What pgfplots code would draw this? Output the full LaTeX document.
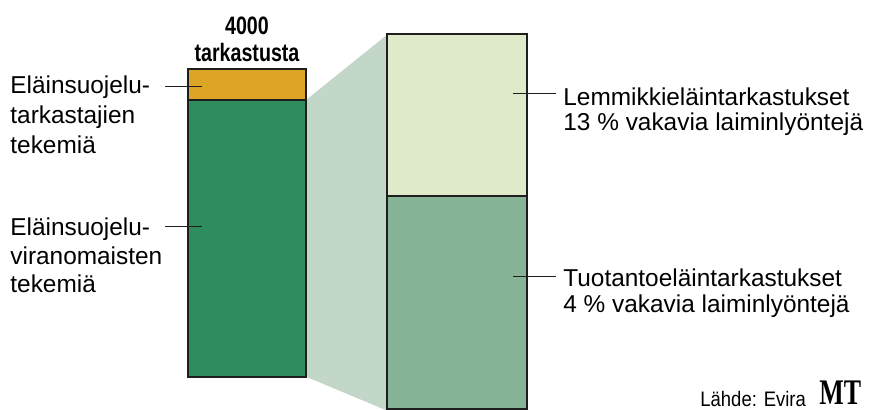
\documentclass[border=0pt]{standalone}
\usepackage{fontspec}
\setmainfont{Liberation Sans}
\newfontfamily\condfont[FakeStretch=0.78]{Liberation Sans}
\newfontfamily\srcfont[FakeStretch=0.88]{Liberation Sans}
\newfontfamily\logofont[FakeStretch=0.72]{Liberation Serif}
\usepackage{pgfplots}
\pgfplotsset{compat=1.18}
\definecolor{cOrange}{HTML}{DCA526}
\definecolor{cGreen}{HTML}{2F8C5F}
\definecolor{cLight}{HTML}{DFEACB}
\definecolor{cMid}{HTML}{87B496}
\definecolor{cFunnel}{HTML}{C2D7C8}
\definecolor{cEdge}{HTML}{1E1E1E}
\pgfplotsset{frame/.style={hide axis, scale only axis, width=435.5pt, height=204.5pt,
  xmin=0, xmax=871, clip=false, at={(0,0)}, anchor=south west}}
\begin{document}
\begin{tikzpicture}
% connector (pixel frame)
\begin{axis}[frame, ymin=0, ymax=409, name=A]
\addplot[fill=cFunnel, draw=none] coordinates {(306,309) (388,375) (388,-2) (306,32.3) (306,309)};
\end{axis}
% left bar: 4000 inspections
\begin{axis}[frame, ymin=-420, ymax=4897, ybar stacked, bar width=59pt]
\addplot[fill=cGreen, draw=cEdge, line width=0.9pt] coordinates {(247,3600)};
\addplot[fill=cOrange, draw=cEdge, line width=0.9pt] coordinates {(247,400)};
\end{axis}
% right bar: shares of authority inspections (%)
\begin{axis}[frame, ymin=0.53, ymax=109.02, ybar stacked, bar width=70pt]
\addplot[fill=cMid, draw=cEdge, line width=0.9pt] coordinates {(457,57)};
\addplot[fill=cLight, draw=cEdge, line width=0.9pt] coordinates {(457,43)};
\end{axis}
% annotations
\begin{axis}[frame, ymin=0, ymax=409]
\draw[cEdge, line width=0.5pt] (165,323) -- (202,323);
\draw[cEdge, line width=0.5pt] (165,183) -- (202,183);
\draw[cEdge, line width=0.5pt] (513,316) -- (556,316);
\draw[cEdge, line width=0.5pt] (513,133) -- (556,133);
\begin{scope}[every node/.style={anchor=base west, inner sep=0pt, font=\fontsize{12.2}{14}\selectfont}]
\node at (10,316) {Eläinsuojelu-};
\node at (10,285.5) {tarkastajien};
\node at (10,255.5) {tekemiä};
\node at (10,174) {Eläinsuojelu-};
\node at (10,145) {viranomaisten};
\node at (10,117) {tekemiä};
\node at (563,304) {Lemmikkieläintarkastukset};
\node at (563,279) {13 \% vakavia laiminlyöntejä};
\node at (563,123) {Tuotantoeläintarkastukset};
\node at (563,97) {4 \% vakavia laiminlyöntejä};
\end{scope}
\node[anchor=base, inner sep=0pt, font=\condfont\bfseries\fontsize{12.6}{14}\selectfont] at (247,375) {4000};
\node[anchor=base, inner sep=0pt, font=\condfont\bfseries\fontsize{12.6}{14}\selectfont] at (247,347.5) {tarkastusta};
\node[anchor=base west, inner sep=0pt, font=\srcfont\fontsize{10.5}{12}\selectfont] at (700,3) {Lähde: Evira};
\node[anchor=base west, inner sep=0pt, font=\logofont\bfseries\fontsize{18}{19}\selectfont] at (819,5) {MT};
\end{axis}
\pgfresetboundingbox
\useasboundingbox (A.south west) rectangle (A.north east);
\end{tikzpicture}
\end{document}
